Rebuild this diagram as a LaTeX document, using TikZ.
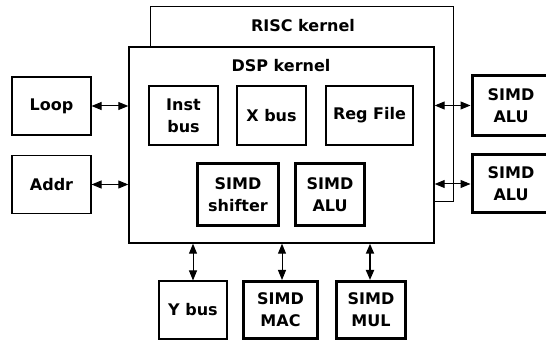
\documentclass[tikz,border=0pt]{standalone}
\usepackage{fontspec}
\setmainfont{DejaVu Sans}
\usetikzlibrary{arrows.meta,calc}
\begin{document}
\begin{tikzpicture}[x=1pt,y=-1pt,
  every node/.style={font=\fontsize{16}{22}\selectfont\bfseries,align=center,inner sep=0pt},
  thinbox/.style={draw,line width=1.1pt,minimum height=58pt},
  thickbox/.style={draw,line width=3pt,minimum height=60pt},
  biarrow/.style={line width=1pt,{Triangle[length=10pt,width=8pt]}-{Triangle[length=10pt,width=8pt]}},
]
\clip (0,0) rectangle (546,344);
\fill[white] (0,0) rectangle (546,344);
% RISC kernel
\node[draw,line width=1pt,minimum width=303pt,minimum height=195pt] (risc) at (301.5,104.5) {};
\node (risclbl) at (303,26) {RISC kernel};
% DSP kernel
\node[draw,fill=white,line width=1.4pt,minimum width=305pt,minimum height=196pt] (dsp) at (281.5,145) {};
\node (dsplbl) at (281,66) {DSP kernel};
% left boxes
\node[thinbox,minimum width=79pt] (loop) at (51.5,106) {Loop};
\node[thinbox,minimum width=79pt] (addr) at (51.5,184.5) {Addr};
% inner top row
\node[thinbox,minimum width=69pt,minimum height=59pt] (inst) at (183.5,115.5) {Inst\\bus};
\node[thinbox,minimum width=69pt,minimum height=59pt] (xbus) at (271.5,115.5) {X bus};
\node[thinbox,minimum width=87pt,minimum height=59pt] (reg) at (369.5,115.5) {Reg File};
% inner bottom row
\node[thickbox,minimum width=81pt,minimum height=62pt] (shift) at (238,194.5) {SIMD\\shifter};
\node[thickbox,minimum width=69pt,minimum height=62pt] (ialu) at (330,194.5) {SIMD\\ALU};
% right boxes
\node[thickbox,minimum width=77pt,minimum height=60pt] (ralua) at (510.5,105.5) {};
\node at (511,105.5) {SIMD\\ALU};
\node[thickbox,minimum width=77pt,minimum height=58pt] (ralub) at (510.5,184) {};
\node at (511,184) {SIMD\\ALU};
% bottom boxes
\node[thinbox,minimum width=68pt] (ybus) at (193,310) {Y bus};
\node[thickbox,minimum width=74pt,minimum height=57pt] (mac) at (280.5,310) {SIMD\\MAC};
\node[thickbox,minimum width=69pt,minimum height=57pt] (mul) at (371,310) {SIMD\\MUL};
% connectors
\draw[biarrow] (loop.east) -- (loop.east -| dsp.west);
\draw[biarrow] (addr.east) -- (addr.east -| dsp.west);
\draw[biarrow] (ralua.west -| dsp.east) -- (ralua.west);
\draw[biarrow] (ralub.west -| dsp.east) -- (ralub.west);
\draw[biarrow] (ybus.north |- dsp.south) -- (ybus.north);
\draw[biarrow] ($(mac.north |- dsp.south)+(1.5,0)$) -- ($(mac.north)+(1.5,0)$);
\draw[biarrow,line width=1.8pt] ($(mul.north |- dsp.south)+(-1,0)$) -- ($(mul.north)+(-1,0)$);
\end{tikzpicture}
\end{document}
